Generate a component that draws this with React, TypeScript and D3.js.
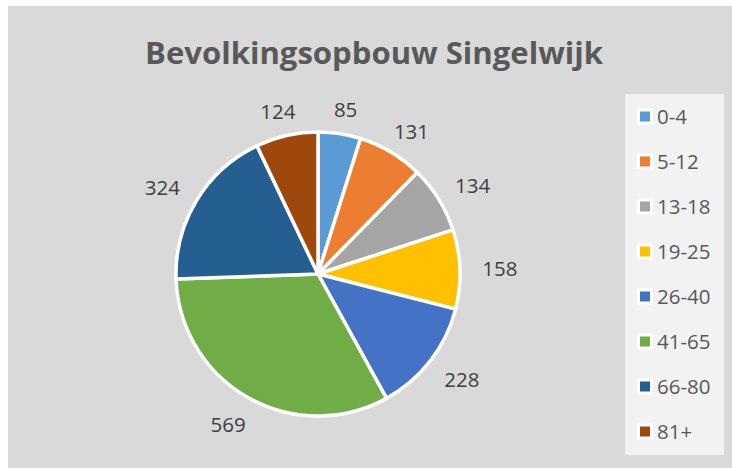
import React from "react";
import * as d3 from "d3";

const categories = ["0-4", "5-12", "13-18", "19-25", "26-40", "41-65", "66-80", "81+"];
const values = [85, 131, 134, 158, 228, 569, 324, 124];
const colors = ["#5B9BD5", "#ED7D31", "#A5A5A5", "#FFC000", "#4472C4", "#70AD47", "#255E91", "#9E480E"];
const title = "Bevolkingsopbouw Singelwijk";

const W = 732;
const H = 468;
const cx = 318;
const cy = 274;
const R = 142;
const labelR = 174;
const FONT = "'Open Sans', 'Noto Sans', sans-serif";

export default function App() {
  const pie = d3.pie<number>().sort(null).value((d) => d);
  const arcs = pie(values);
  const arc = d3.arc<d3.PieArcDatum<number>>().innerRadius(0).outerRadius(R);
  const labelArc = d3.arc<d3.PieArcDatum<number>>().innerRadius(labelR).outerRadius(labelR);
  const legendY = d3.scalePoint<string>().domain(categories).range([116.5, 431.5]);

  return (
    <svg
      width={W}
      height={H}
      style={{ position: "absolute", left: 0, top: 0, display: "block" }}
      fontFamily={FONT}
    >
      <rect x={0} y={0} width={W} height={H} fill="#ffffff" />
      <rect x={8} y={6} width={W - 8} height={H - 6} fill="#d9d9d9" />
      <text
        x={145}
        y={64}
        fontSize={30}
        fontWeight="bold"
        fill="#595959"
        textLength={458}
        lengthAdjust="spacingAndGlyphs"
      >
        {title}
      </text>
      <g transform={`translate(${cx},${cy})`}>
        {arcs.map((a, i) => (
          <path key={i} d={arc(a) || ""} fill={colors[i]} stroke="#ffffff" strokeWidth={3.5} strokeLinejoin="round" />
        ))}
        {arcs.map((a, i) => {
          const [lx, ly] = labelArc.centroid(a);
          const mid = (a.startAngle + a.endAngle) / 2;
          const ox = Math.sin(mid) * 8;
          const oy = Math.max(Math.cos(mid), 0) * 8 + 7;
          return (
            <text
              key={"l" + i}
              x={lx + ox}
              y={ly + oy}
              fontSize={20.5}
              fill="#404040"
              textAnchor="middle"
            >
              {values[i]}
            </text>
          );
        })}
      </g>
      <rect x={625} y={94} width={99} height={361} fill="#f2f2f2" />
      {categories.map((c, i) => {
        const y = legendY(c) as number;
        return (
          <g key={"lg" + i}>
            <rect x={637} y={y - 8} width={16} height={16} fill="#ffffff" rx={1.5} />
            <rect x={640} y={y - 5} width={10} height={10} fill={colors[i]} />
            <text x={657} y={y + 7.5} fontSize={20.5} fill="#595959">
              {c}
            </text>
          </g>
        );
      })}
    </svg>
  );
}
